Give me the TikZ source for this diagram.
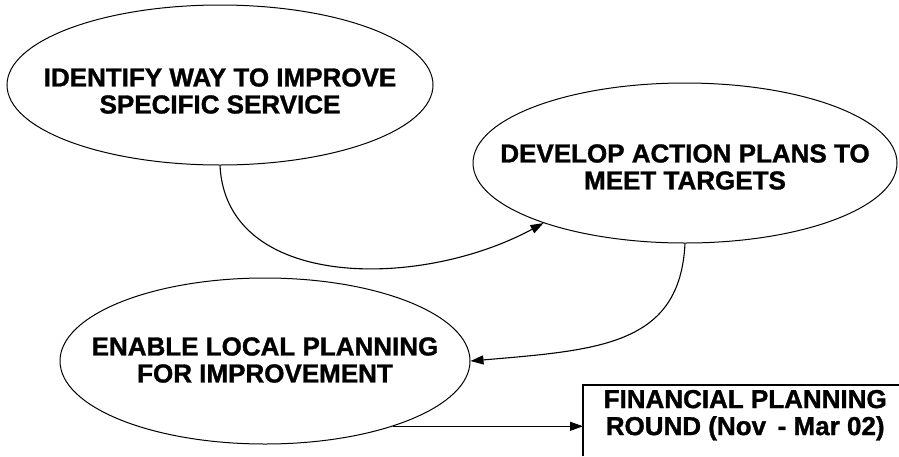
\documentclass[tikz,border=0pt]{standalone}
\usepackage{fontspec}
\setmainfont{Liberation Sans}[BoldFeatures={FakeBold=1.2}]
\usetikzlibrary{shapes.geometric,arrows.meta}
\tikzset{
  oval/.style={ellipse, draw, line width=1pt, inner sep=0pt},
  lbl/.style={inner sep=0pt, align=center,
    font=\bfseries\fontsize{26}{27}\selectfont},
  arr/.style={line width=1.1pt, -{Triangle[length=13pt,width=9pt]}},
  edge/.style={line width=1.1pt}
}
\begin{document}
\begin{tikzpicture}[x=1pt,y=1pt]
\useasboundingbox (0,0) rectangle (899,-456);
\node[oval, minimum width=426pt, minimum height=160pt] (e1) at (220,-85) {};
\node[lbl] (t1) at ([yshift=-6pt]e1.center) {IDENTIFY WAY TO IMPROVE\\SPECIFIC SERVICE};
\node[oval, minimum width=424pt, minimum height=160pt] (e2) at (685,-163) {};
\node[lbl] (t2) at ([yshift=-4pt]e2.center) {DEVELOP ACTION PLANS TO\\MEET TARGETS};
\node[oval, minimum width=410pt, minimum height=166pt] (e3) at (265,-361) {};
\node[lbl] (t3) at ([yshift=1pt]e3.center) {ENABLE LOCAL PLANNING\\FOR IMPROVEMENT};
\node[lbl, anchor=north west, minimum width=324pt, minimum height=60pt] (box) at (583,-385)
  {FINANCIAL PLANNING\\ROUND (Nov \,- Mar 02)};
\draw[edge] ([yshift=-11pt]box.south west) -- (box.north west) -- ([xshift=-8pt]box.north east);
\draw[arr] (e1.south) .. controls (226,-290) and (420,-290) .. (e2.203);
\draw[arr] (e2.south) .. controls (680,-345) and (600,-350) .. (e3.east);
\draw[arr] (e3.-27) -- (e3.-27 -| box.west);
\end{tikzpicture}
\end{document}
